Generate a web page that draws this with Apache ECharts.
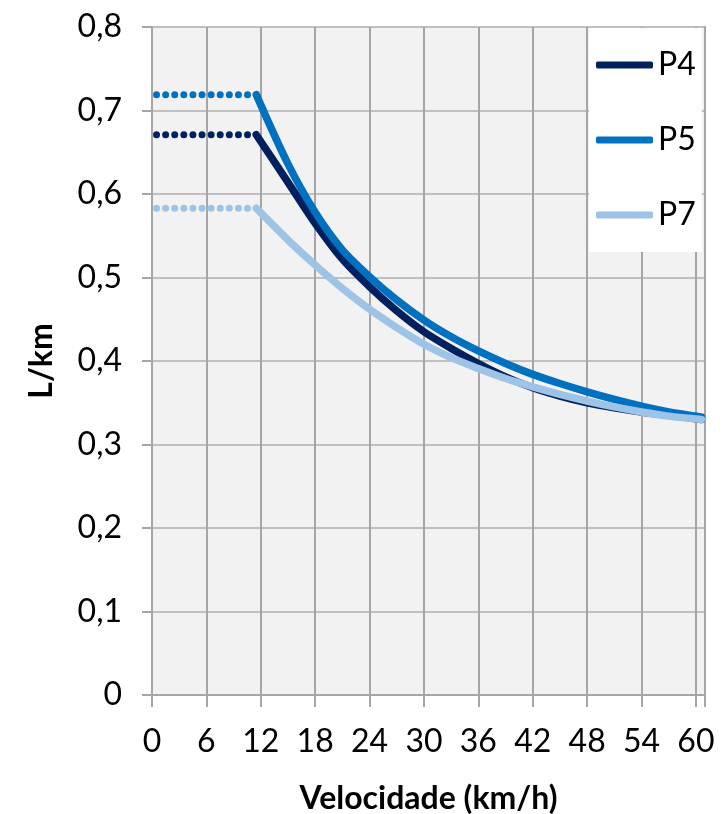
<!DOCTYPE html>
<html>
<head>
<meta charset="utf-8">
<script src="https://cdn.jsdelivr.net/npm/echarts@6/dist/echarts.min.js"></script>
<style>
html,body{margin:0;padding:0;background:#fff;}
#chart{width:723px;height:814px;}
</style>
</head>
<body>
<div id="chart"></div>
<script>
// Solid curves: speed (km/h) and consumption (L/km)
var speeds = [11.5, 15, 18, 21, 24, 27, 30, 33, 36, 39, 42, 45, 48, 51, 54, 57, 60.6];
var p4Values = [0.671, 0.614, 0.565, 0.522, 0.489, 0.460, 0.435, 0.415, 0.397, 0.381, 0.368, 0.358, 0.350, 0.344, 0.339, 0.335, 0.330];
var p5Values = [0.719, 0.636, 0.578, 0.533, 0.501, 0.473, 0.449, 0.429, 0.412, 0.397, 0.384, 0.373, 0.363, 0.354, 0.346, 0.339, 0.333];
var p7Values = [0.583, 0.545, 0.515, 0.487, 0.462, 0.440, 0.420, 0.404, 0.391, 0.379, 0.369, 0.360, 0.352, 0.345, 0.339, 0.334, 0.330];
// Constant (dotted) part at low speed
var flatSpeeds = [0.5, 11.5];
var p4Flat = [0.671, 0.671];
var p5Flat = [0.719, 0.719];
var p7Flat = [0.583, 0.583];
var names = ['P4', 'P5', 'P7'];
var colors = ['#002060', '#0070C0', '#9DC3E6'];
var xTicks = [0, 6, 12, 18, 24, 30, 36, 42, 48, 54, 60];
var yTicks = ['0', '0,1', '0,2', '0,3', '0,4', '0,5', '0,6', '0,7', '0,8'];

function pairs(xs, ys) { return xs.map(function (x, i) { return [x, ys[i]]; }); }

var FONT = 'Lato, "Open Sans", sans-serif';
var solidY = [p4Values, p5Values, p7Values];
var flat = [p4Flat, p5Flat, p7Flat];
var series = [];
for (var i = 0; i < 3; i++) {
  series.push({
    name: names[i] + ' ', type: 'line', data: pairs(flatSpeeds, flat[i]),
    symbol: 'none', silent: true, z: 2 + i,
    lineStyle: { color: colors[i], width: 7, type: [0, 9.1], cap: 'round' },
    itemStyle: { color: colors[i] }
  });
}
for (var j = 0; j < 3; j++) {
  series.push({
    name: names[j], type: 'line', data: pairs(speeds, solidY[j]),
    symbol: 'none', smooth: 0.3, z: 5 + j,
    lineStyle: { color: colors[j], width: 7.5, cap: 'round', join: 'round' },
    itemStyle: { color: colors[j] }
  });
}

var chart = echarts.init(document.getElementById('chart'), null, { renderer: 'canvas' });
chart.setOption({
  animation: false,
  backgroundColor: '#ffffff',
  grid: {
    left: 152, right: 18, top: 27, bottom: 119,
    outerBoundsMode: 'none', containLabel: false,
    show: true, backgroundColor: '#f2f2f2', borderColor: '#a6a6a6', borderWidth: 2
  },
  legend: {
    data: names, orient: 'vertical', left: 589, top: 28,
    backgroundColor: '#ffffff', padding: [21, 6, 21, 7],
    itemWidth: 57, itemHeight: 7, itemGap: 43, icon: 'roundRect',
    textStyle: { fontFamily: FONT, fontSize: 32, color: '#000' }
  },
  xAxis: {
    type: 'value', min: 0, max: 61, interval: 6,
    name: 'Velocidade (km/h)', nameLocation: 'middle', nameGap: 88,
    nameTextStyle: { fontFamily: FONT, fontSize: 32, fontWeight: 'bold', color: '#000' },
    axisLine: { show: true, lineStyle: { color: '#a6a6a6', width: 2 } },
    axisTick: { show: true, length: 12, lineStyle: { color: '#a6a6a6', width: 2 } },
    axisLabel: {
      fontFamily: FONT, fontSize: 32, color: '#000', margin: 31,
      formatter: function (v) { return xTicks.indexOf(v) >= 0 ? String(v) : ''; }
    },
    splitLine: { show: true, lineStyle: { color: '#a6a6a6', width: 2 } }
  },
  yAxis: {
    type: 'value', min: 0, max: 0.8, interval: 0.1,
    name: 'L/km', nameLocation: 'middle', nameGap: 94, nameRotate: 90,
    nameTextStyle: { fontFamily: FONT, fontSize: 32, fontWeight: 'bold', color: '#000' },
    axisLine: { show: true, lineStyle: { color: '#a6a6a6', width: 2 } },
    axisTick: { show: true, length: 10, lineStyle: { color: '#a6a6a6', width: 2 } },
    axisLabel: {
      fontFamily: FONT, fontSize: 32, color: '#000', margin: 30,
      formatter: function (v) { return yTicks[Math.round(v * 10)]; }
    },
    splitLine: { show: true, lineStyle: { color: '#bfbfbf', width: 2 } }
  },
  series: series
});
</script>
</body>
</html>
